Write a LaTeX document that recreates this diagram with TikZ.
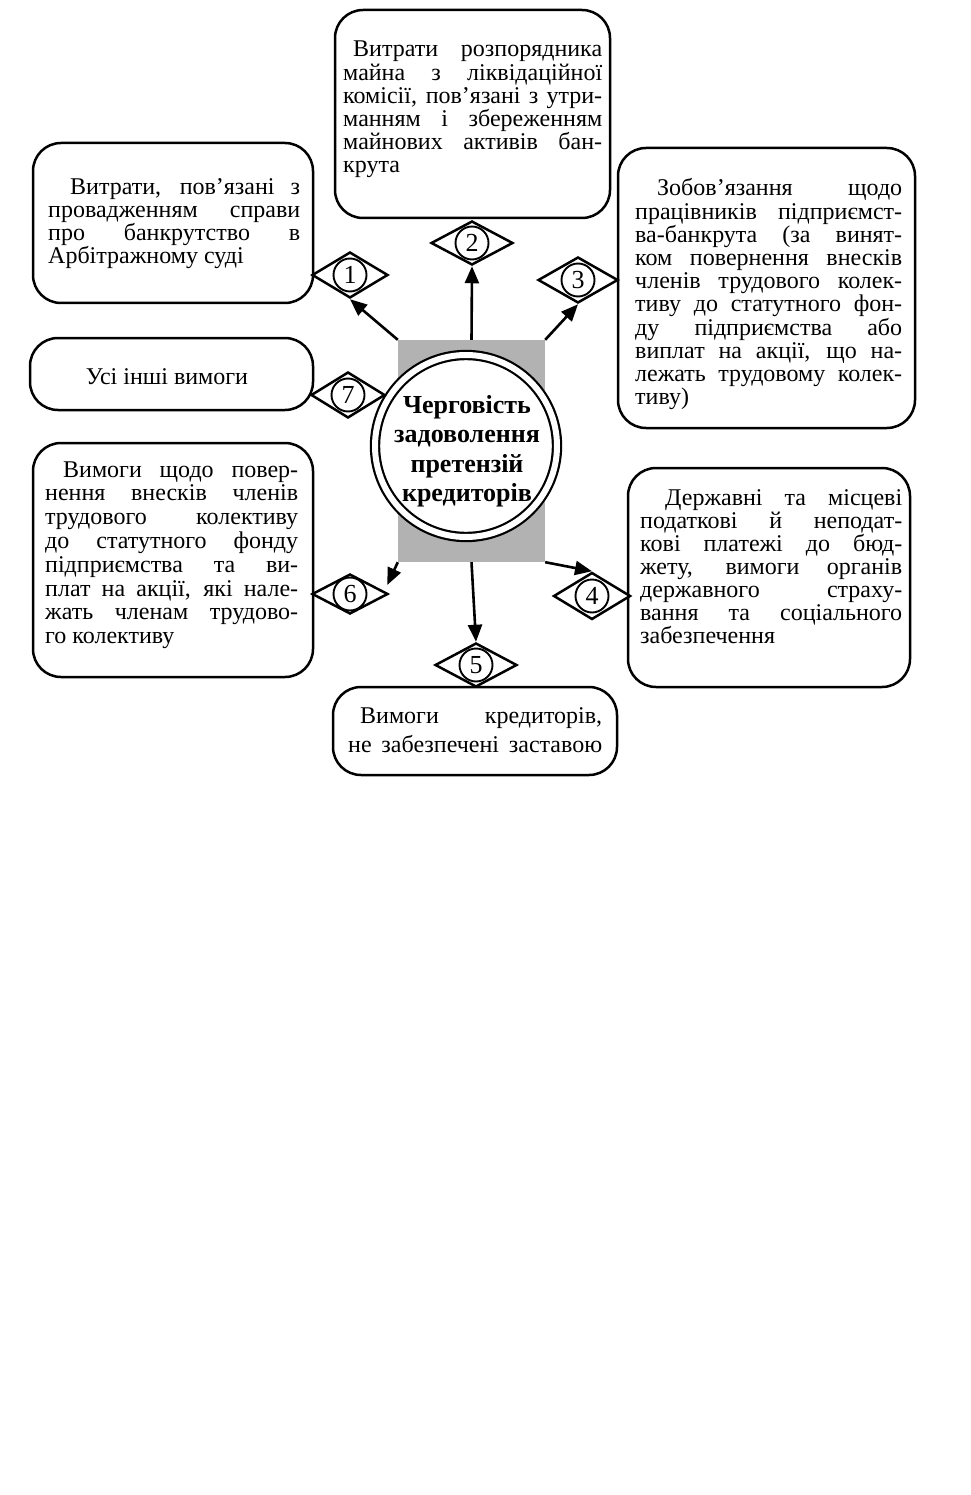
\documentclass[tikz,border=0pt]{standalone}
\usepackage{fontspec}
\setmainfont{Liberation Serif}
\usetikzlibrary{shapes.geometric,arrows.meta,calc}
\newcommand\JL[2][0pt]{\hbox to\hsize{\hspace*{#1}#2}}
\newcommand\LL[2][0pt]{\hbox{\hspace*{#1}#2}}
\newcommand\fsz[2]{\fontsize{#1}{#2}\selectfont\lineskiplimit=-100pt\relax}
\tikzset{
  rbox/.style={draw, line width=2.5pt, rounded corners=28pt, inner sep=0pt},
  dia/.style={diamond, draw, line width=2.5pt, inner sep=0pt, fill=white},
  num/.style={circle, draw, line width=1.9pt, minimum size=33pt, inner sep=0pt, fill=white,
              font=\fontsize{26}{26}\selectfont},
  arr/.style={line width=2.6pt, -{Triangle[length=17pt,width=14pt]}},
  txt/.style={anchor=base west, inner sep=0pt},
}
\begin{document}
\begin{tikzpicture}[x=1pt,y=-1pt]
\useasboundingbox (0,0) rectangle (970,1495);

% centre
\node[fill=gray!60, minimum width=147pt, minimum height=222pt, inner sep=0pt] (sq) at (471.5,451) {};
\node[circle, draw, fill=white, line width=2.2pt, double, double distance=6pt, minimum size=182pt, inner sep=0pt] (c) at (466,446) {};
\node[anchor=base, inner sep=0pt] (ct) at (467,413)
  {\vtop{\hsize=230pt\parindent=0pt\centering\bfseries\fsz{26}{29.5}Черговість\\задоволення\\претензій\\кредиторів\par}};

% boxes
\node[rbox, minimum width=275pt, minimum height=208pt] (b2) at (472.5,114) {};
\node[rbox, minimum width=280pt, minimum height=160pt] (b1) at (173,223) {};
\node[rbox, minimum width=297pt, minimum height=280pt] (b3) at (766.5,288) {};
\node[rbox, minimum width=283pt, minimum height=72pt] (b7) at (171.5,374) {};
\node[rbox, minimum width=280pt, minimum height=234pt] (b6) at (173,560) {};
\node[rbox, minimum width=282pt, minimum height=219pt] (b4) at (769,577.5) {};
\node[rbox, minimum width=284pt, minimum height=88pt] (b5) at (475,731) {};

% texts
\node[txt] (t2) at (343,57) {\vtop{\hsize=259pt\fsz{24}{23.2}%
\JL[10pt]{Витрати розпорядника}
\JL{майна з ліквідаційної}
\JL{комісії, пов’язані з утри-}
\JL{манням і збереженням}
\JL{майнових активів бан-}
\LL{крута}}};
\node[txt] (t1) at (48,195) {\vtop{\hsize=252pt\fsz{24}{23}%
\JL[22pt]{Витрати, пов’язані з}
\JL{провадженням справи}
\JL{про банкрутство в}
\LL{Арбітражному суді}}};
\node[txt] (t3) at (635,196) {\vtop{\hsize=267pt\fsz{24}{23.2}%
\JL[22pt]{Зобов’язання щодо}
\JL{працівників підприємст-}
\JL{ва-банкрута (за винят-}
\JL{ком повернення внесків}
\JL{членів трудового колек-}
\JL{тиву до статутного фон-}
\JL{ду підприємства або}
\JL{виплат на акції, що на-}
\JL{лежать трудовому колек-}
\LL{тиву)}}};
\node[anchor=base, inner sep=0pt, font=\fsz{24}{24}] (t7) at (167,384) {Усі інші вимоги};
\node[txt] (t6) at (45,477) {\vtop{\hsize=253pt\fsz{24}{23.8}%
\JL[18pt]{Вимоги щодо повер-}
\JL{нення внесків членів}
\JL{трудового колективу}
\JL{до статутного фонду}
\JL{підприємства та ви-}
\JL{плат на акції, які нале-}
\JL{жать членам трудово-}
\LL{го колективу}}};
\node[txt] (t4) at (640,505) {\vtop{\hsize=262pt\fsz{24}{23}%
\JL[25pt]{Державні та місцеві}
\JL{податкові й неподат-}
\JL{кові платежі до бюд-}
\JL{жету, вимоги органів}
\JL{державного страху-}
\JL{вання та соціального}
\LL{забезпечення}}};
\node[txt] (t5) at (348,723) {\vtop{\hsize=254pt\fsz{24}{29.5}%
\JL[12pt]{Вимоги кредиторів,}
\JL{не забезпечені заставою}}};

% diamonds
\node[dia, minimum width=76pt, minimum height=46pt] (d1) at (350,275) {};
\node[dia, minimum width=82pt, minimum height=44pt] (d2) at (472,243) {};
\node[dia, minimum width=80pt, minimum height=46pt] (d3) at (578,280) {};
\node[dia, minimum width=77pt, minimum height=47pt] (d4) at (592,596) {};
\node[dia, minimum width=82pt, minimum height=44pt] (d5) at (476,665) {};
\node[dia, minimum width=76pt, minimum height=40pt] (d6) at (350,594) {};
\node[dia, minimum width=74pt, minimum height=46pt] (d7) at (348,395) {};
\foreach \i in {1,...,7} {\node[num] (n\i) at (d\i) {\i};}

% arrows
\draw[arr] (sq.north west) -- (d1.south);
\draw[arr] (sq.north) -- (d2.south);
\draw[arr] (sq.north east) -- (d3.south);
\draw[arr] (sq.south east) -- (d4.north);
\draw[arr] (sq.south) -- (d5.north);
\draw[arr] (sq.south west) -- ($(d6.east)+(-2,-9)$);
\end{tikzpicture}
\end{document}
